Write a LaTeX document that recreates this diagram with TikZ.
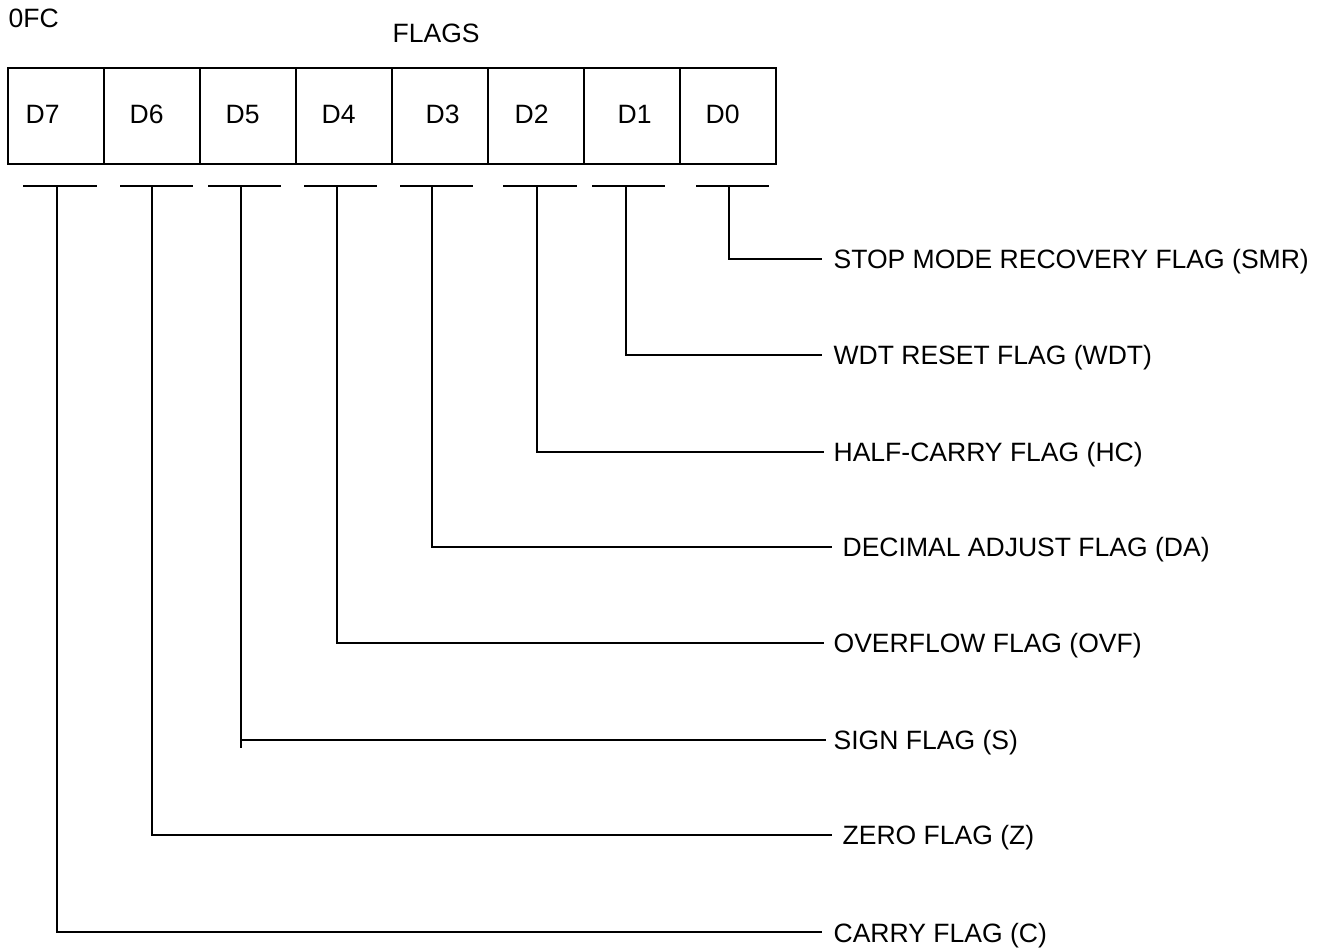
\documentclass[tikz,border=0pt]{standalone}
\usepackage{fontspec}
\setmainfont{Liberation Sans}
\begin{document}
\begin{tikzpicture}[x=0.75pt,y=-0.75pt,line width=0.9pt,
  txt/.style={font=\fontsize{19.9}{23}\selectfont,inner sep=0pt,anchor=base west},
  cellbox/.style={draw,minimum width=72pt,minimum height=72pt,inner sep=0pt,outer sep=0pt},
  wire/.style={line width=0.9pt}]
\useasboundingbox (0,0) rectangle (1326,949);
% title texts
\node[txt] (addr) at (8,28) {0FC};
\node[txt] (title) at (392,43) {FLAGS};
% register cells
\node[cellbox] (c7) at (56,116) {};
\node[cellbox] (c6) at (152,116) {};
\node[cellbox] (c5) at (248,116) {};
\node[cellbox] (c4) at (344,116) {};
\node[cellbox] (c3) at (440,116) {};
\node[cellbox] (c2) at (536,116) {};
\node[cellbox] (c1) at (632,116) {};
\node[cellbox] (c0) at (728,116) {};
\node[txt] (t7) at (25,123) {D7};
\node[txt] (t6) at (129,123) {D6};
\node[txt] (t5) at (225,123) {D5};
\node[txt] (t4) at (321,123) {D4};
\node[txt] (t3) at (425,123) {D3};
\node[txt] (t2) at (514,123) {D2};
\node[txt] (t1) at (617,123) {D1};
\node[txt] (t0) at (705,123) {D0};
% underline bars
\draw[wire] (23,186) -- (97,186);
\draw[wire] (120,186) -- (193,186);
\draw[wire] (208,186) -- (281,186);
\draw[wire] (304,186) -- (377,186);
\draw[wire] (400,186) -- (473,186);
\draw[wire] (503,186) -- (577,186);
\draw[wire] (592,186) -- (665,186);
\draw[wire] (696,186) -- (769,186);
% tap points
\coordinate (u7) at (57,186);
\coordinate (u6) at (152,186);
\coordinate (u5) at (241,186);
\coordinate (u4) at (337,186);
\coordinate (u3) at (432,186);
\coordinate (u2) at (537,186);
\coordinate (u1) at (626,186);
\coordinate (u0) at (729,186);
% line ends
\coordinate (e0) at (822,259);
\coordinate (e1) at (822,355);
\coordinate (e2) at (824,452);
\coordinate (e3) at (832,547);
\coordinate (e4) at (824,643);
\coordinate (e5) at (826,740);
\coordinate (e6) at (832,835);
\coordinate (e7) at (822,932);
% labels
\node[txt] (l0) at (833,268) {STOP MODE RECOVERY FLAG (SMR)};
\node[txt] (l1) at (833,364) {WDT RESET FLAG (WDT)};
\node[txt] (l2) at (833,461) {HALF-CARRY FLAG (HC)};
\node[txt] (l3) at (842,556) {DECIMAL ADJUST FLAG (DA)};
\node[txt] (l4) at (833,652) {OVERFLOW FLAG (OVF)};
\node[txt] (l5) at (833,749) {SIGN FLAG (S)};
\node[txt] (l6) at (842,844) {ZERO FLAG (Z)};
\node[txt] (l7) at (833,942) {CARRY FLAG (C)};
% connectors
\draw[wire] (u0) |- (e0);
\draw[wire] (u1) |- (e1);
\draw[wire] (u2) |- (e2);
\draw[wire] (u3) |- (e3);
\draw[wire] (u4) |- (e4);
\draw[wire] (u5) |- (e5);
\draw[wire] (u5 |- e5) -- ++(0,8);
\draw[wire] (u6) |- (e6);
\draw[wire] (u7) |- (e7);
\end{tikzpicture}
\end{document}
